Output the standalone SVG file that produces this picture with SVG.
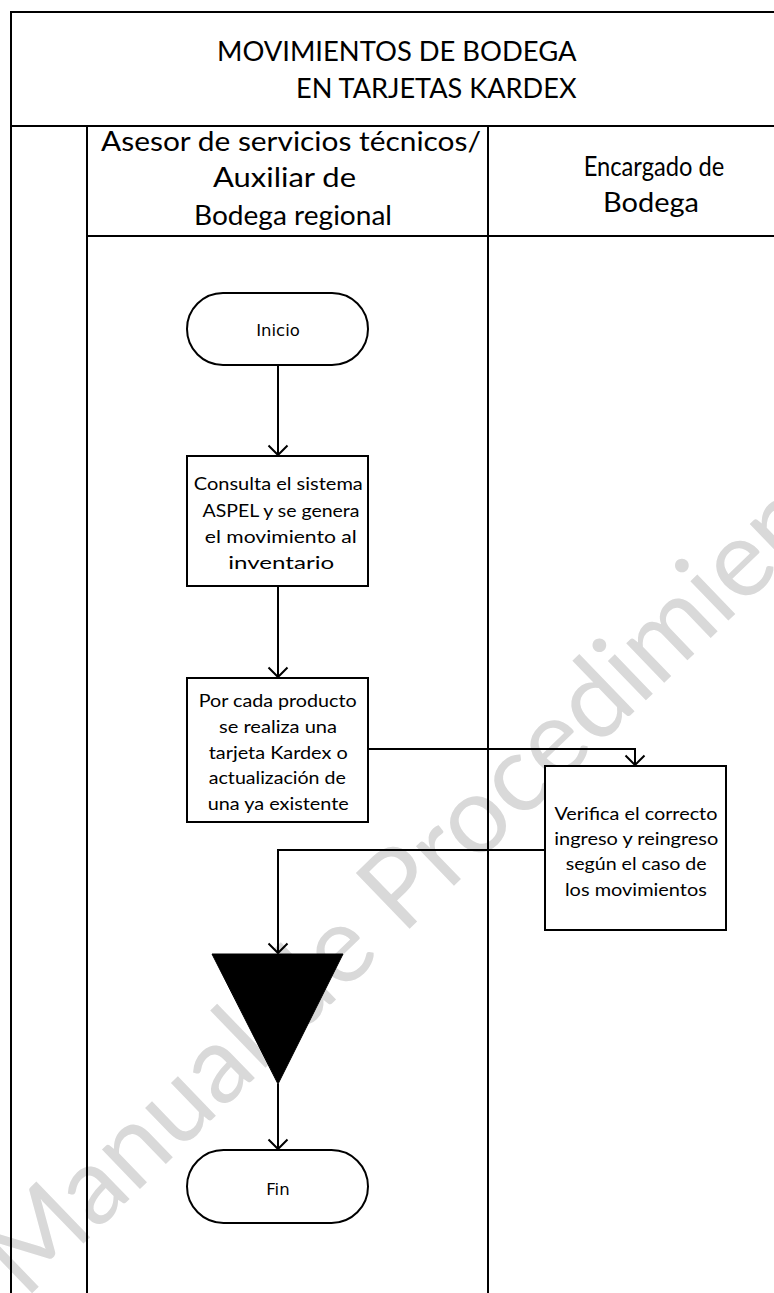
<svg xmlns="http://www.w3.org/2000/svg" width="774" height="1293" viewBox="0 0 774 1293">
  <style>
    .frame { fill: none; stroke: #000; stroke-width: 2; }
    .shape { fill: #fff; stroke: #000; stroke-width: 2; }
    .edge { fill: none; stroke: #000; stroke-width: 2; }
    .hdr { font-family: Lato, "Liberation Sans", sans-serif; font-size: 26px; fill: #000; text-anchor: middle; }
    .lane { font-family: Lato, "Liberation Sans", sans-serif; font-size: 27px; fill: #000; text-anchor: middle; }
    .lbl { font-family: Lato, "Liberation Sans", sans-serif; font-size: 18px; fill: #000; text-anchor: middle; }
    .term { font-family: "DejaVu Sans", sans-serif; font-size: 16.5px; fill: #000; text-anchor: middle; }
    .wm { font-family: Lato, "Open Sans", sans-serif; font-size: 108px; fill: #d9d9d9; }
  </style>
  <defs>
    <marker id="arr" markerWidth="22" markerHeight="22" refX="11" refY="11" orient="auto" markerUnits="userSpaceOnUse">
      <path d="M1.5,1.5 L11,11 L1.5,20.5" fill="none" stroke="#000" stroke-width="2"/>
    </marker>
  </defs>

  <rect width="774" height="1293" fill="#fff"/>

  <!-- watermark -->
  <text class="wm" transform="translate(25,1300) rotate(-44)">Manual de Procedimientos</text>

  <!-- pool frame and swimlanes -->
  <g id="frame">
    <path class="frame" d="M11,1293 V12 H776"/>
    <path class="frame" d="M11,126 H776"/>
    <path class="frame" d="M87,126 V1293"/>
    <path class="frame" d="M488,126 V1293"/>
    <path class="frame" d="M87,236 H776"/>
  </g>

  <g id="title">
    <text class="hdr" x="396.75" y="61" textLength="359.5" lengthAdjust="spacingAndGlyphs">MOVIMIENTOS DE BODEGA</text>
    <text class="hdr" x="436.25" y="98" textLength="280.5" lengthAdjust="spacingAndGlyphs">EN TARJETAS KARDEX</text>
  </g>

  <g id="lane-asesor">
    <text class="lane" x="291" y="151" textLength="380" lengthAdjust="spacingAndGlyphs">Asesor de servicios técnicos/</text>
    <text class="lane" x="284.5" y="187" textLength="143" lengthAdjust="spacingAndGlyphs">Auxiliar de</text>
    <text class="lane" x="293" y="225" textLength="198" lengthAdjust="spacingAndGlyphs">Bodega regional</text>
  </g>

  <g id="lane-encargado">
    <text class="lane" x="654" y="176" textLength="140.5" lengthAdjust="spacingAndGlyphs">Encargado de</text>
    <text class="lane" x="651" y="212" textLength="96" lengthAdjust="spacingAndGlyphs">Bodega</text>
  </g>

  <!-- connectors -->
  <g id="connectors">
    <path class="edge" d="M278,365 V455" marker-end="url(#arr)"/>
    <path class="edge" d="M278,586 V677" marker-end="url(#arr)"/>
    <path class="edge" d="M368,749 H635 V765" marker-end="url(#arr)"/>
    <path class="edge" d="M545,850 H278 V953" marker-end="url(#arr)"/>
    <path class="edge" d="M278,1084 V1149" marker-end="url(#arr)"/>
  </g>

  <g id="inicio">
    <rect class="shape" x="187" y="293" width="181" height="72" rx="36" ry="36"/>
    <text class="term" x="278" y="336">Inicio</text>
  </g>

  <g id="consulta">
    <rect class="shape" x="187" y="456" width="181" height="130"/>
    <text class="lbl" x="278.3" y="490" textLength="169" lengthAdjust="spacingAndGlyphs">Consulta el sistema</text>
    <text class="lbl" x="281" y="517" textLength="157" lengthAdjust="spacingAndGlyphs">ASPEL y se genera</text>
    <text class="lbl" x="280.8" y="543" textLength="152" lengthAdjust="spacingAndGlyphs">el movimiento al</text>
    <text class="lbl" x="281.2" y="569" textLength="106" lengthAdjust="spacingAndGlyphs">inventario</text>
  </g>

  <g id="tarjeta">
    <rect class="shape" x="187" y="678" width="181" height="144"/>
    <text class="lbl" x="277.7" y="707" textLength="158" lengthAdjust="spacingAndGlyphs">Por cada producto</text>
    <text class="lbl" x="278" y="733" textLength="118" lengthAdjust="spacingAndGlyphs">se realiza una</text>
    <text class="lbl" x="278.2" y="759" textLength="139" lengthAdjust="spacingAndGlyphs">tarjeta Kardex o</text>
    <text class="lbl" x="277.3" y="784" textLength="137" lengthAdjust="spacingAndGlyphs">actualización de</text>
    <text class="lbl" x="278.2" y="810" textLength="141" lengthAdjust="spacingAndGlyphs">una ya existente</text>
  </g>

  <g id="verifica">
    <rect class="shape" x="545" y="766" width="181" height="164"/>
    <text class="lbl" x="635.9" y="820" textLength="163" lengthAdjust="spacingAndGlyphs">Verifica el correcto</text>
    <text class="lbl" x="636.3" y="845" textLength="164" lengthAdjust="spacingAndGlyphs">ingreso y reingreso</text>
    <text class="lbl" x="636.2" y="870" textLength="141" lengthAdjust="spacingAndGlyphs">según el caso de</text>
    <text class="lbl" x="635.9" y="896" textLength="142" lengthAdjust="spacingAndGlyphs">los movimientos</text>
  </g>

  <g id="archivo">
    <path d="M212,954 H343 L278,1084 Z" fill="#000" stroke="#000" stroke-width="1"/>
  </g>

  <g id="fin">
    <rect class="shape" x="187" y="1150" width="181" height="73" rx="36.5" ry="36.5"/>
    <text class="term" x="278" y="1195">Fin</text>
  </g>
</svg>
